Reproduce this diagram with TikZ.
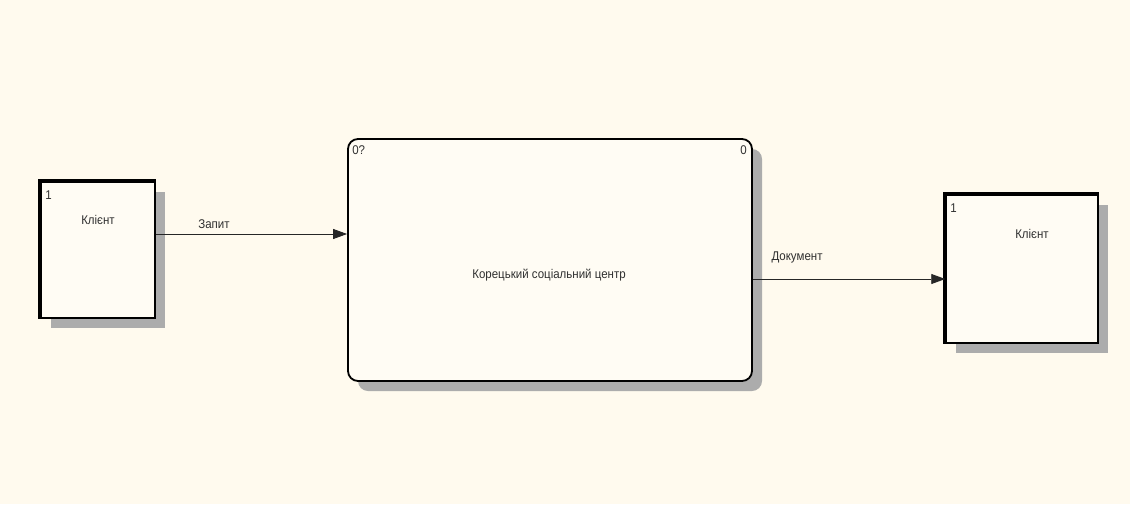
\documentclass[tikz,border=0pt]{standalone}
\usepackage{fontspec}
\setmainfont{Liberation Sans}
\usetikzlibrary{arrows.meta,patterns,shadows}

\definecolor{paper}{HTML}{FFFAEE}
\definecolor{boxfill}{HTML}{FFFCF4}
\definecolor{ink}{HTML}{303030}

\tikzset{
    hatchshadow/.style={drop shadow={shadow xshift=10pt, shadow yshift=-10pt, opacity=1, fill=gray!65}},
    entity/.style={draw=black, line width=1.5pt, fill=boxfill, inner sep=0pt, hatchshadow},
    process/.style={draw=black, line width=1.8pt, fill=boxfill, rounded corners=10pt, inner sep=0pt, hatchshadow},
    flow/.style={draw=black!85, line width=0.9pt, -{Triangle[length=14pt,width=10pt]}},
    txt/.style={text=ink, font=\fontsize{11.5}{13}\selectfont, yscale=1.1, inner sep=1pt}
}

\begin{document}
\begin{tikzpicture}[x=1pt,y=-1pt]
        \useasboundingbox[fill=paper] (0,0) rectangle (1130,504);

        % External entity - left
        \node[entity, minimum width=114pt, minimum height=136pt] (cl1) at (98, 250) {};
        \draw[line width=4pt] (cl1.south west) -- (cl1.north west) -- (cl1.north east);
        \node[txt, anchor=north west] (cl1num) at ([xshift=4pt, yshift=-8pt]cl1.north west) {1};
        \node[txt] (cl1name) at (98, 220) {Клієнт};

        % Process
        \node[process, minimum width=404pt, minimum height=242pt] (proc) at (550, 260) {};
        \node[txt, anchor=north west] (procid) at ([xshift=4pt, yshift=-6pt]proc.north west) {0?};
        \node[txt, anchor=north east] (procnum) at ([xshift=-5pt, yshift=-6pt]proc.north east) {0};
        \node[txt] (procname) at (549, 275) {Корецький соціальний центр};

        % External entity - right
        \node[entity, minimum width=152pt, minimum height=148pt] (cl2) at (1022, 269) {};
        \draw[line width=4pt] (cl2.south west) -- (cl2.north west) -- (cl2.north east);
        \node[txt, anchor=north west] (cl2num) at ([xshift=4pt, yshift=-8pt]cl2.north west) {1};
        \node[txt] (cl2name) at (1032, 234) {Клієнт};

        % Flows
        \draw[flow] ([yshift=16pt]cl1.east) coordinate (zin) -- (zin -| proc.west);
        \node[txt] (zap) at (214, 224) {Запит};

        \draw[flow] ([yshift=-19pt]proc.east) coordinate (dout) -- (dout -| cl2.west);
        \node[txt] (doc) at (797, 257) {Документ};
\end{tikzpicture}
\end{document}
